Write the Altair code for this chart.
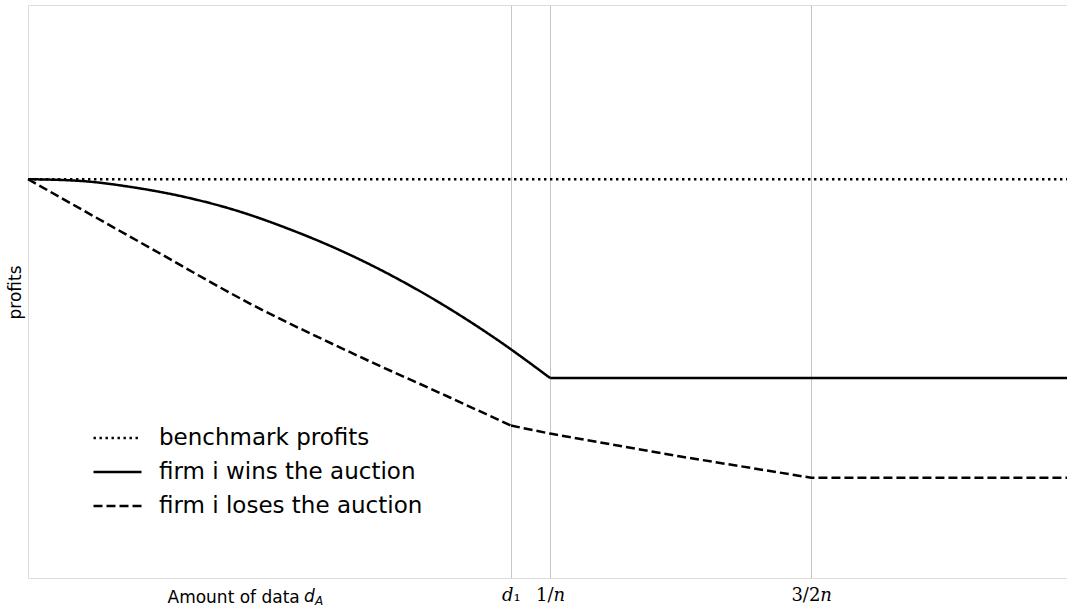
import altair as alt
import pandas as pd

# x measured in units of 1/n, y in profit units
x_max = 1.99
d1 = 0.925

bench_x = [0.0, 1.99]
bench_y = [0.696, 0.696]

# curved part of the winning firm's profits, then the flat part
win_curve_x = [0.0, 0.1, 0.2, 0.3, 0.4, 0.5, 0.6, 0.7, 0.8, 0.9, 1.0]
win_curve_y = [0.696, 0.693, 0.682, 0.665, 0.641, 0.609, 0.571, 0.526, 0.474, 0.415, 0.349]
win_flat_x = [1.0, 1.99]
win_flat_y = [0.349, 0.349]

# losing firm's profits: smooth up to d1, straight pieces afterwards
lose_curve_x = [0.0, 0.234, 0.425, 0.617, 0.808, 0.925]
lose_curve_y = [0.696, 0.576, 0.479, 0.394, 0.315, 0.266]
lose_tail_x = [0.925, 1.0, 1.25, 1.5, 1.99]
lose_tail_y = [0.266, 0.252, 0.212, 0.175, 0.175]

series_names = ["benchmark profits", "firm i wins the auction", "firm i loses the auction"]
tick_values = [d1, 1.0, 1.5]
tick_labels = ["𝑑₁", "1/𝑛", "3/2𝑛"]


def frame(pieces):
    rows = []
    for seg, (name, xs, ys) in enumerate(pieces):
        for i, (xv, yv) in enumerate(zip(xs, ys)):
            rows.append({"series": name, "seg": seg, "order": i, "x": xv, "y": yv})
    return pd.DataFrame(rows)


straight_df = frame([
    (series_names[0], bench_x, bench_y),
    (series_names[1], win_flat_x, win_flat_y),
    (series_names[2], lose_tail_x, lose_tail_y),
])
curved_df = frame([
    (series_names[1], win_curve_x, win_curve_y),
    (series_names[2], lose_curve_x, lose_curve_y),
])

label_expr = " : ".join(
    f"abs(datum.value - {v}) < 1e-6 ? '{t}'" for v, t in zip(tick_values, tick_labels)
) + " : ''"

x_enc = alt.X(
    "x:Q",
    scale=alt.Scale(domain=[0, x_max], nice=False, zero=False),
    axis=alt.Axis(
        values=tick_values,
        labelExpr=label_expr,
        grid=True,
        gridColor="#c6c6c6",
        gridWidth=1,
        ticks=False,
        tickSize=0,
        domain=False,
        labelFont="DejaVu Serif",
        labelFontSize=18,
        labelColor="black",
        labelPadding=8,
        title="Amount of data",
        titleFont="DejaVu Sans",
        titleFontSize=17,
        titleFontWeight="normal",
        titleColor="black",
        titleAlign="left",
        titleBaseline="alphabetic",
        titleX=139,
        titleY=24,
    ),
)
y_enc = alt.Y(
    "y:Q",
    scale=alt.Scale(domain=[0, 1], nice=False, zero=False),
    axis=alt.Axis(
        grid=False,
        ticks=False,
        labels=False,
        domain=False,
        title="profits",
        titleFont="DejaVu Sans",
        titleFontSize=17,
        titleFontWeight="normal",
        titleColor="black",
        titleAngle=-90,
        titleAlign="center",
        titleBaseline="alphabetic",
        titleX=-8,
        titleY=287,
    ),
)
dash_enc = alt.StrokeDash(
    "series:N",
    sort=series_names,
    scale=alt.Scale(domain=series_names, range=[[2.4, 3.6], [1, 0], [9, 4]]),
    legend=alt.Legend(
        title=None,
        orient="none",
        legendX=64,
        legendY=416,
        symbolType="stroke",
        symbolSize=2304,
        symbolStrokeWidth=2.3,
        symbolStrokeColor="black",
        labelFont="DejaVu Sans",
        labelFontSize=23,
        labelColor="black",
        labelOffset=16,
        labelLimit=500,
        clipHeight=34,
        rowPadding=0,
    ),
)

straight = alt.Chart(straight_df).mark_line(color="black", strokeWidth=2.5).encode(
    x=x_enc, y=y_enc, strokeDash=dash_enc, order="order:Q", detail="seg:N"
)
curved = alt.Chart(curved_df).mark_line(
    color="black", strokeWidth=2.5, interpolate="monotone"
).encode(
    x=x_enc, y=y_enc, strokeDash=dash_enc, order="order:Q", detail="seg:N"
)

# italic "d" with subscript "A" completing the x-axis title
title_d = alt.Chart(pd.DataFrame({"t": ["d"]})).mark_text(
    font="DejaVu Sans", fontSize=17, fontStyle="italic", align="left", baseline="alphabetic", color="black"
).encode(x=alt.value(276), y=alt.value(597), text="t:N")
title_a = alt.Chart(pd.DataFrame({"t": ["A"]})).mark_text(
    font="DejaVu Sans", fontSize=12, fontStyle="italic", align="left", baseline="alphabetic", color="black"
).encode(x=alt.value(287), y=alt.value(600), text="t:N")

chart = alt.layer(straight, curved, title_d, title_a).properties(
    width=1039,
    height=573,
    autosize=alt.AutoSizeParams(type="none"),
    padding={"left": 28, "top": 5, "right": 0, "bottom": 30},
).configure_view(
    stroke="#7a7a7a", strokeWidth=1.5
).configure(background="white")

chart.save("out.html", embed_options={"renderer": "svg", "actions": False})
